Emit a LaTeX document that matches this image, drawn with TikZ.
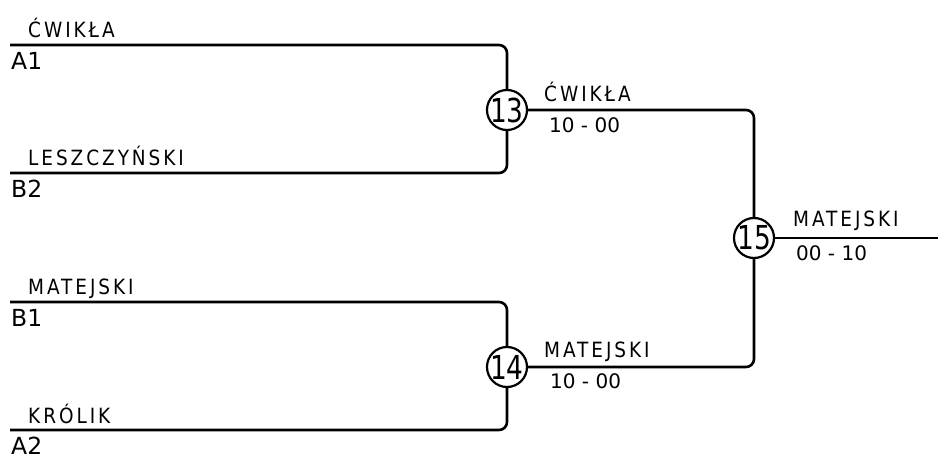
\documentclass[tikz,border=0pt]{standalone}
\usepackage{fontspec}
\usepackage{tikz}
\setmainfont{DejaVu Sans}
\newfontfamily\playerfont{DejaVu Sans}[FakeStretch=0.88, LetterSpace=14]
\newfontfamily\numberfont{DejaVu Sans}[FakeStretch=0.8]

\tikzset{
	player/.style = {inner sep=0, font=\playerfont\fontsize{21}{24}\selectfont},
	seed/.style = {inner sep=0, font=\fontsize{23.5}{27}\selectfont},
	score/.style = {inner sep=0, font=\fontsize{20}{24}\selectfont},
	match/.style = {draw, circle, line width=2.2pt, inner sep=-1pt, minimum size=40pt, font=\numberfont\fontsize{33}{36}\selectfont},
	bracket/.style = {line width=2.6pt, rounded corners=8pt}
}

\begin{document}
\begin{tikzpicture}[x=1pt, y=-1pt]
	\useasboundingbox (0,0) rectangle (938,457);
	\node[match] (m13) at (507,110) {13};
	\node[match] (m14) at (507,367) {14};
	\node[match] (m15) at (754,238) {15};
	\coordinate (out) at (938,238);
	% first round
	\foreach \slot/\y/\pname/\code in {a1/45/ĆWIKŁA/A1, b2/173/LESZCZYŃSKI/B2, b1/302/MATEJSKI/B1, a2/430/KRÓLIK/A2} {
		\coordinate (\slot) at (10,\y);
		\node[player, anchor=base west] (p-\slot) at (28,\y-7) {\pname};
		\node[seed, anchor=north west] (s-\slot) at (11,\y+7) {\code};
	}
	\draw[bracket] (a1) -| (m13.north);
	\draw[bracket] (b2) -| (m13.south);
	\draw[bracket] (b1) -| (m14.north);
	\draw[bracket] (a2) -| (m14.south);
	% semi finals
	\draw[bracket] (m13.east) -| (m15.north);
	\draw[bracket] (m14.east) -| (m15.south);
	\draw[bracket] (m15.east) -- (out);
	\node[player, anchor=base west] (w13) at (544,102) {ĆWIKŁA};
	\node[score, anchor=north west] (r13) at (549,117) {10 - 00};
	\node[player, anchor=base west] (w14) at (544,358) {MATEJSKI};
	\node[score, anchor=north west] (r14) at (550,373) {10 - 00};
	% final
	\node[player, anchor=base west] (w15) at (793,227) {MATEJSKI};
	\node[score, anchor=north west] (r15) at (796,245) {00 - 10};
\end{tikzpicture}
\end{document}
